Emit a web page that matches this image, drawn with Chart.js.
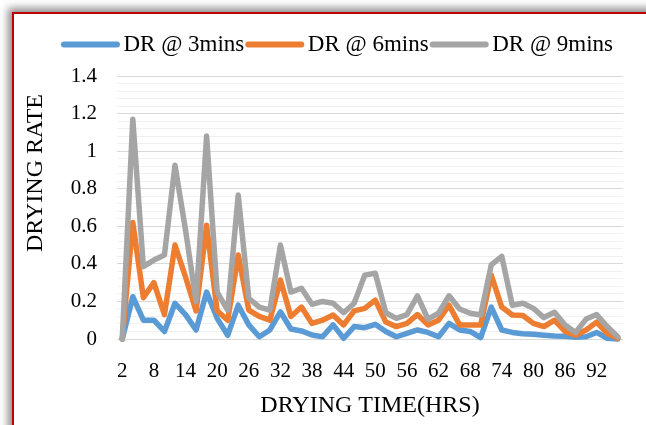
<!DOCTYPE html>
<html>
<head>
<meta charset="utf-8">
<script src="https://cdn.jsdelivr.net/npm/chart.js@4.4.1/dist/chart.umd.min.js"></script>
<style>
    html, body { margin: 0; padding: 0; background: #fff; overflow: hidden; }
    #frame {
        position: absolute; left: 12px; top: 12px; width: 700px; height: 500px;
        border: 2px solid #c00000; box-shadow: -4px -4px 8px rgba(0, 0, 0, 0.45); background: #fff;
    }
    #wrap { position: absolute; left: 0; top: 0; width: 646px; height: 425px; }
</style>
</head>
<body>
<div id="frame"></div>
<div id="wrap"><canvas id="chart" width="646" height="425"></canvas></div>
<script>
// drying time (hrs)
const hours = [2, 4, 6, 8, 10, 12, 14, 16, 18, 20, 22, 24, 26, 28, 30, 32,
    34, 36, 38, 40, 42, 44, 46, 48, 50, 52, 54, 56, 58, 60, 62, 64,
    66, 68, 70, 72, 74, 76, 78, 80, 82, 84, 86, 88, 90, 92, 94, 96];

const dr3 = [0, 0.225, 0.10, 0.10, 0.04, 0.19, 0.13, 0.048, 0.25, 0.11, 0.02, 0.18, 0.075, 0.012, 0.048, 0.145,
    0.053, 0.043, 0.021, 0.012, 0.075, 0.004, 0.066, 0.06, 0.078, 0.04, 0.012, 0.03, 0.048, 0.035, 0.012, 0.083,
    0.048, 0.04, 0.007, 0.17, 0.048, 0.035, 0.028, 0.025, 0.02, 0.016, 0.014, 0.009, 0.012, 0.035, 0.004, 0];

const dr6 = [0, 0.62, 0.22, 0.30, 0.13, 0.50, 0.33, 0.15, 0.605, 0.15, 0.10, 0.447, 0.154, 0.12, 0.10, 0.314,
    0.12, 0.17, 0.083, 0.10, 0.128, 0.075, 0.15, 0.163, 0.207, 0.09, 0.066, 0.083, 0.13, 0.075, 0.10, 0.18,
    0.075, 0.075, 0.075, 0.34, 0.17, 0.128, 0.125, 0.083, 0.066, 0.10, 0.04, 0.02, 0.048, 0.09, 0.03, 0.004];

const dr9 = [0, 1.17, 0.385, 0.42, 0.447, 0.925, 0.58, 0.20, 1.08, 0.25, 0.154, 0.766, 0.217, 0.17, 0.154, 0.50,
    0.25, 0.27, 0.185, 0.20, 0.19, 0.14, 0.19, 0.34, 0.35, 0.14, 0.11, 0.13, 0.23, 0.106, 0.137, 0.23,
    0.16, 0.137, 0.128, 0.394, 0.44, 0.18, 0.19, 0.163, 0.114, 0.142, 0.075, 0.035, 0.106, 0.13, 0.066, 0.012];

const seriesNames = ['DR @ 3mins', 'DR @ 6mins', 'DR @ 9mins'];
const seriesColors = ['#5b9bd5', '#ed7d31', '#a5a5a5'];

const fontFamily = "'Liberation Serif', 'DejaVu Serif', serif";

function makeDataset(i, values) {
    return {
        label: seriesNames[i],
        data: values,
        borderColor: seriesColors[i],
        backgroundColor: seriesColors[i],
        borderWidth: 5.5,
        borderJoinStyle: 'round',
        borderCapStyle: 'round',
        pointRadius: 0,
        tension: 0,
        fill: false,
        clip: false,
        order: 3 - i   // gray on top, as in the original
    };
}

function isMajor(v) {
    return Math.abs(v / 0.2 - Math.round(v / 0.2)) < 1e-6;
}

// y axis title sits a bit above the middle, and legend swatches are thick
// rounded lines close to the text, so both are drawn by hand
const extrasPlugin = {
    id: 'extras',
    afterLayout(chart) {
        // leave a wider gap between legend and plot, nudge it right a bit
        chart.legend.top -= 10;
        chart.legend.bottom -= 10;
        chart.legend.left += 6;
        chart.legend.right += 6;
    },
    afterDraw(chart) {
        const ctx = chart.ctx;
        ctx.save();
        ctx.translate(36, 173);
        ctx.rotate(-Math.PI / 2);
        ctx.font = '24px ' + fontFamily;
        ctx.fillStyle = '#000';
        ctx.textAlign = 'center';
        ctx.textBaseline = 'middle';
        ctx.fillText('DRYING RATE', 0, 0);
        ctx.restore();

        const legend = chart.legend;
        legend.legendHitBoxes.forEach((box, i) => {
            const item = legend.legendItems[i];
            const y = box.top + box.height / 2;
            ctx.save();
            ctx.strokeStyle = seriesColors[item.datasetIndex];
            ctx.lineWidth = 6;
            ctx.lineCap = 'round';
            ctx.beginPath();
            ctx.moveTo(box.left - 6, y);
            ctx.lineTo(box.left + 47, y);
            ctx.stroke();
            ctx.restore();
        });
    }
};

const ctx = document.getElementById('chart').getContext('2d');
new Chart(ctx, {
    type: 'line',
    data: {
        labels: hours,
        datasets: [makeDataset(0, dr3), makeDataset(1, dr6), makeDataset(2, dr9)]
    },
    options: {
        responsive: false,
        animation: false,
        layout: { padding: { left: 48, right: 23, top: 23, bottom: 0 } },
        plugins: {
            legend: {
                position: 'top',
                labels: {
                    font: { family: fontFamily, size: 23 },
                    color: '#000',
                    boxWidth: 42,
                    boxHeight: 6,
                    padding: 10,
                    generateLabels: function (chart) {
                        const items = Chart.defaults.plugins.legend.labels.generateLabels(chart);
                        items.forEach(item => {
                            item.lineWidth = 0;
                            item.fillStyle = 'rgba(0,0,0,0)';
                        });
                        return items.sort((a, b) => a.datasetIndex - b.datasetIndex);
                    }
                }
            },
            tooltip: { enabled: false }
        },
        scales: {
            x: {
                offset: true,
                grid: { display: false },
                border: { display: false },
                ticks: {
                    autoSkip: false,
                    maxRotation: 0,
                    padding: 12,
                    color: '#000',
                    font: { family: fontFamily, size: 21 },
                    callback: function (value, index) {
                        return index % 3 === 0 ? this.getLabelForValue(value) : '';
                    }
                },
                title: {
                    display: true,
                    text: 'DRYING TIME(HRS)',
                    color: '#000',
                    font: { family: fontFamily, size: 24 },
                    padding: { top: 0, bottom: 5 }
                },
                afterFit: function (scale) { scale.height = 86; }
            },
            y: {
                min: 0,
                max: 1.4,
                border: { display: false },
                grid: {
                    drawTicks: false,
                    lineWidth: 1,
                    color: function (c) {
                        return isMajor(c.tick.value) ? '#d9d9d9' : '#f0f0f0';
                    }
                },
                ticks: {
                    stepSize: 0.04,
                    autoSkip: false,
                    padding: 20,
                    color: '#000',
                    font: { family: fontFamily, size: 21 },
                    callback: function (v) {
                        if (!isMajor(v)) return '';
                        return String(Math.round(v * 10) / 10);
                    }
                },
                afterFit: function (scale) {
                    scale.width = 69;
                    scale.paddingTop = 76;   // push plot top down below legend
                }
            }
        }
    },
    plugins: [extrasPlugin]
});
</script>
</body>
</html>
